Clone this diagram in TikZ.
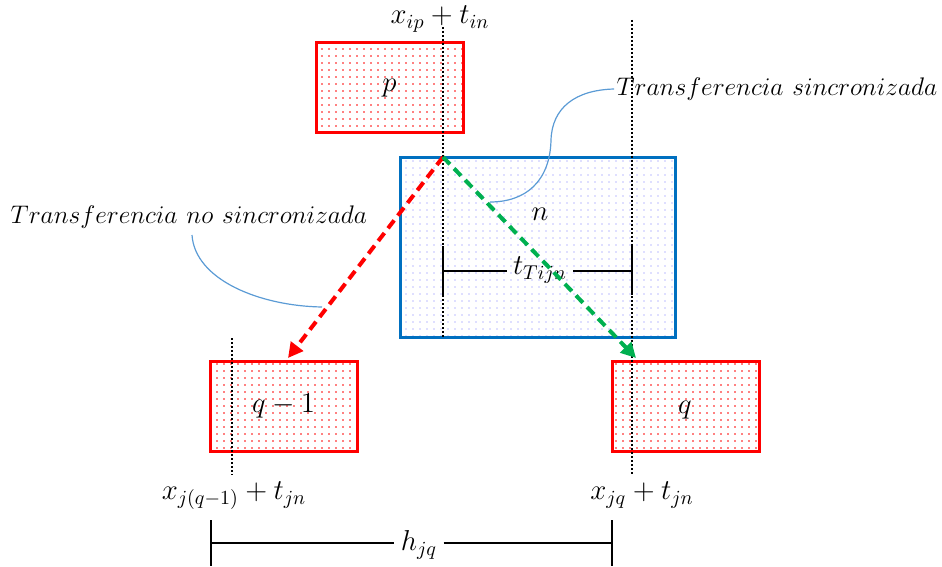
\documentclass[tikz,border=0pt]{standalone}
\usepackage{amsmath}
\usetikzlibrary{positioning,arrows.meta,patterns.meta,calc}
\definecolor{slotblue}{RGB}{0,112,192}
\definecolor{syncgreen}{RGB}{0,176,80}
\definecolor{calloutblue}{RGB}{91,155,213}

\begin{document}
\begin{tikzpicture}[x=0.5pt, y=-0.5pt,
    task/.style={rectangle, draw=red, line width=1.5pt, pattern={Dots[distance=3.5pt,radius=0.45pt]}, pattern color=red, minimum width=73.5pt, minimum height=45pt, inner sep=0pt, font=\fontsize{14}{16}\selectfont},
    slot/.style={rectangle, draw=slotblue, line width=1.5pt, pattern={Dots[distance=3.5pt,radius=0.4pt]}, pattern color=blue!25, minimum width=137.5pt, minimum height=90pt, inner sep=0pt},
    guide/.style={black, line width=0.8pt, dash pattern=on 0.8pt off 1.2pt},
    transfer/.style={line width=2pt, dash pattern=on 5pt off 3pt, -{Triangle[length=7.5pt,width=7.5pt]}},
    callout/.style={draw=calloutblue, line width=0.6pt},
    dim/.style={black, line width=0.7pt},
    lbl/.style={font=\fontsize{14}{16}\selectfont, inner sep=1pt},
    note/.style={font=\fontsize{13}{15}\selectfont, inner sep=1pt, scale=1.06, transform shape}
]
\useasboundingbox (0,0) rectangle (942,567);

% Tasks
\node[task] (p) at (389.5,88) {$p$};
\node[slot] (n) at (537.5,247) {};
\node[lbl] (nlbl) at (540,214) {$n$};
\node[task] (qm) at (283.5,406) {$q-1$};
\node[task] (q) at (685.5,406) {};
\node[lbl] (qlbl) at (685,410) {$q$};

% Reference lines
\coordinate (ipTop) at (443,27);
\coordinate (ipBot) at (443,337);
\coordinate (jqTop) at (632,20);
\coordinate (jqBot) at (632,475);
\coordinate (jmTop) at (232,338);
\coordinate (jmBot) at (232,475);
\draw[guide] (ipTop) -- (ipBot);
\draw[guide] (jqTop) -- (jqBot);
\draw[guide] (jmTop) -- (jmBot);

\node[lbl] (xip) at (440,19) {$x_{ip}+t_{in}$};
\node[lbl] (xjm) at (234,496) {$x_{j(q-1)}+t_{jn}$};
\node[lbl] (xjq) at (642,495) {$x_{jq}+t_{jn}$};

% Durations
\coordinate (tL) at (443,271);
\coordinate (tR) at (632,271);
\node[lbl, inner sep=3pt] (tT) at (540,270) {$t_{Tijn}$};
\draw[dim] (443,246) -- (443,295);
\draw[dim] (632,246) -- (632,295);
\draw[dim] (tL) -- (tT.west |- tL);
\draw[dim] (tT.east |- tR) -- (tR);

\coordinate (hL) at (211,543);
\coordinate (hR) at (612,543);
\node[lbl, inner sep=3pt] (h) at (419,545) {$h_{jq}$};
\draw[dim] (211,520) -- (211,566);
\draw[dim] (612,520) -- (612,566);
\draw[dim] (hL) -- (h.west |- hL);
\draw[dim] (h.east |- hR) -- (hR);

% Transfers
\coordinate (start) at (443,157);
\coordinate (qmIn) at (288,358);
\coordinate (qIn) at (636,358);
\draw[transfer, red] (start) -- (qmIn);
\draw[transfer, syncgreen] (start) -- (qIn);

% Callouts
\node[note] (sync) at (777,89) {$Transferencia\ sincronizada$};
\node[note] (nosync) at (189,217) {$Transferencia\ no\ sincronizada$};
\coordinate (syncEnd) at (490,202);
\coordinate (nsStart) at (192,235);
\coordinate (nsEnd) at (322,307);
\draw[callout] (sync.west) .. controls (575,90) and (552,108) .. (551,140) .. controls (550,182) and (525,202) .. (syncEnd);
\draw[callout] (nsStart) .. controls (195,280) and (260,306) .. (nsEnd);

\end{tikzpicture}
\end{document}
